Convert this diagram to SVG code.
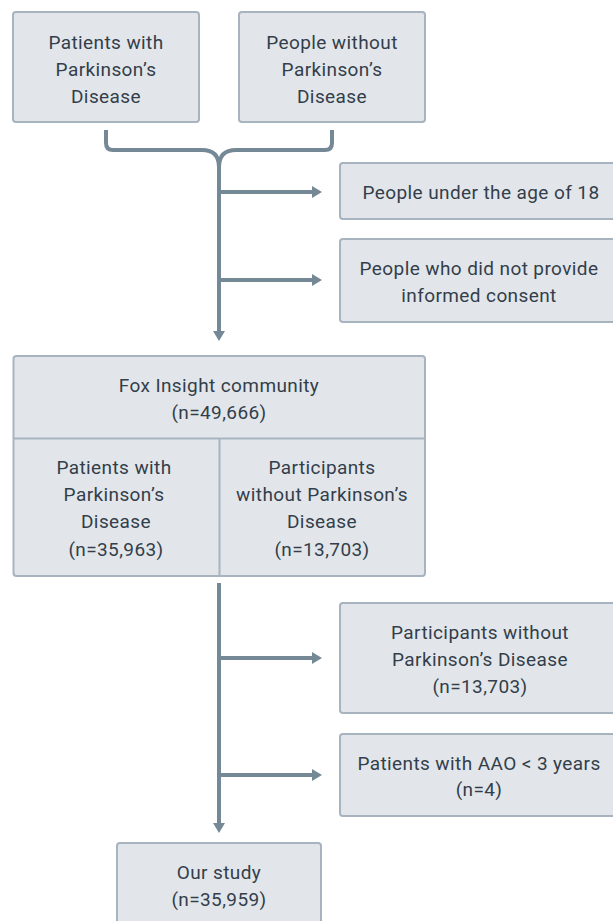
<svg xmlns="http://www.w3.org/2000/svg" width="613" height="921" viewBox="0 0 613 921">
<style>
.box{fill:#e2e6ea;stroke:#a7b3bf;stroke-width:2}
.t{font-family:Roboto,"Liberation Sans",sans-serif;font-size:19px;letter-spacing:0.4px;fill:#333e4a;text-anchor:middle;dominant-baseline:central}
.ln{fill:none;stroke:#758896;stroke-width:4;stroke-linecap:butt}
.div{stroke:#a7b3bf;stroke-width:2}
</style>
<defs>
<marker id="ah" viewBox="0 0 10 12" refX="2" refY="6" markerWidth="10" markerHeight="12" markerUnits="userSpaceOnUse" orient="auto">
<path d="M0,0 L10,6 L0,12 Z" fill="#758896"/>
</marker>
</defs>
<rect width="613" height="921" fill="#ffffff"/>
<g id="connectors">
<path class="ln" d="M106,130 V143 Q106,150 113,150 H202 Q219,150 219,167"/>
<path class="ln" d="M332,130 V143 Q332,150 325,150 H236 Q219,150 219,167"/>
<path class="ln" d="M219,165 V333" marker-end="url(#ah)"/>
<path class="ln" d="M219,192 H314" marker-end="url(#ah)"/>
<path class="ln" d="M219,280 H314" marker-end="url(#ah)"/>
<path class="ln" d="M219,583 V825" marker-end="url(#ah)"/>
<path class="ln" d="M219,658 H314" marker-end="url(#ah)"/>
<path class="ln" d="M219,775 H314" marker-end="url(#ah)"/>
</g>
<g id="n1">
<rect class="box" x="13" y="12" width="186" height="110" rx="3"/>
<text class="t" x="106" y="42">Patients with</text>
<text class="t" x="106" y="69">Parkinson’s</text>
<text class="t" x="106" y="96.5">Disease</text>
</g>
<g id="n2">
<rect class="box" x="239" y="12" width="186" height="110" rx="3"/>
<text class="t" x="332" y="42">People without</text>
<text class="t" x="332" y="69">Parkinson’s</text>
<text class="t" x="332" y="96.5">Disease</text>
</g>
<g id="n3">
<rect class="box" x="340" y="163" width="282" height="56" rx="3"/>
<text class="t" x="481" y="192">People under the age of 18</text>
</g>
<g id="n4">
<rect class="box" x="340" y="239" width="282" height="83" rx="3"/>
<text class="t" x="479" y="268">People who did not provide</text>
<text class="t" x="479" y="295">informed consent</text>
</g>
<g id="n5">
<rect class="box" x="13.5" y="356" width="411.5" height="220" rx="3"/>
<line class="div" x1="13.5" y1="438.5" x2="425" y2="438.5"/>
<line class="div" x1="219.5" y1="438.5" x2="219.5" y2="576"/>
<text class="t" x="219" y="385">Fox Insight community</text>
<text class="t" x="219" y="412">(n=49,666)</text>
<text class="t" x="114" y="467">Patients with</text>
<text class="t" x="114" y="494">Parkinson’s</text>
<text class="t" x="116" y="521.5">Disease</text>
<text class="t" x="116" y="549">(n=35,963)</text>
<text class="t" x="322" y="467">Participants</text>
<text class="t" x="322" y="494">without Parkinson’s</text>
<text class="t" x="322" y="521.5">Disease</text>
<text class="t" x="322" y="549">(n=13,703)</text>
</g>
<g id="n6">
<rect class="box" x="340" y="603" width="282" height="110" rx="3"/>
<text class="t" x="480" y="632">Participants without</text>
<text class="t" x="480" y="659">Parkinson’s Disease</text>
<text class="t" x="480" y="686.5">(n=13,703)</text>
</g>
<g id="n7">
<rect class="box" x="340" y="734" width="282" height="82" rx="3"/>
<text class="t" x="479" y="763">Patients with AAO &lt; 3 years</text>
<text class="t" x="479" y="789.5">(n=4)</text>
</g>
<g id="n8">
<rect class="box" x="117" y="843" width="204" height="90" rx="3"/>
<text class="t" x="219" y="872.5">Our study</text>
<text class="t" x="219" y="899.5">(n=35,959)</text>
</g>
</svg>
